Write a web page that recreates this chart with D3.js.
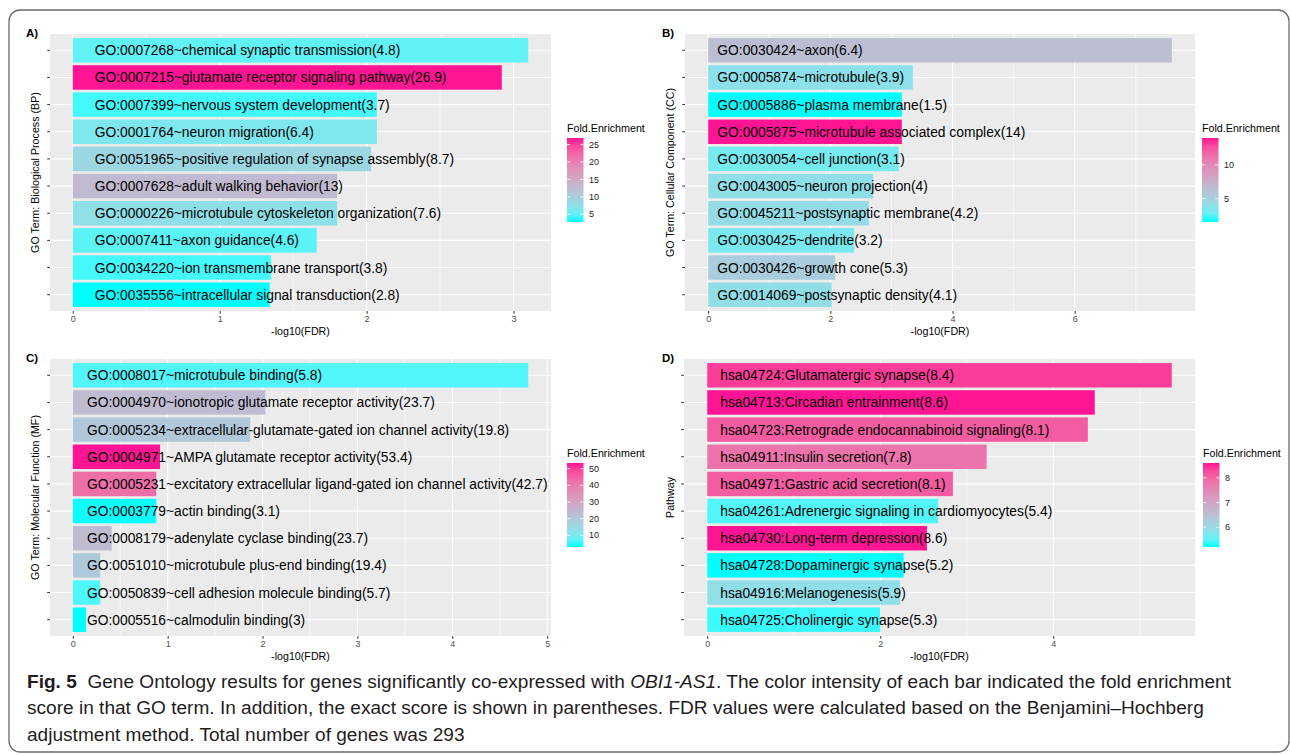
<!DOCTYPE html>
<html>
<head>
<meta charset="utf-8">
<script src="https://cdn.jsdelivr.net/npm/d3@7"></script>
<style>
	body { margin: 0; background: #fff; }
	svg { display: block; }
</style>
</head>
<body>
<div id="chart"></div>
<script>

/* --------------------- Data ---------------------- */

// A) biological process
let bpTerms = ['GO:0007268~chemical synaptic transmission', 'GO:0007215~glutamate receptor signaling pathway',
	'GO:0007399~nervous system development', 'GO:0001764~neuron migration',
	'GO:0051965~positive regulation of synapse assembly', 'GO:0007628~adult walking behavior',
	'GO:0000226~microtubule cytoskeleton organization', 'GO:0007411~axon guidance',
	'GO:0034220~ion transmembrane transport', 'GO:0035556~intracellular signal transduction'];
let bpLogFdr = [3.10, 2.92, 2.07, 2.07, 2.03, 1.80, 1.80, 1.66, 1.35, 1.34];
let bpFold = [4.8, 26.9, 3.7, 6.4, 8.7, 13, 7.6, 4.6, 3.8, 2.8];
let bpTicks = [0, 1, 2, 3];
let bpLegendTicks = [5, 10, 15, 20, 25];

// B) cellular component
let ccTerms = ['GO:0030424~axon', 'GO:0005874~microtubule', 'GO:0005886~plasma membrane',
	'GO:0005875~microtubule associated complex', 'GO:0030054~cell junction', 'GO:0043005~neuron projection',
	'GO:0045211~postsynaptic membrane', 'GO:0030425~dendrite', 'GO:0030426~growth cone',
	'GO:0014069~postsynaptic density'];
let ccLogFdr = [7.59, 3.35, 3.17, 3.17, 3.12, 2.70, 2.63, 2.39, 2.08, 2.02];
let ccFold = [6.4, 3.9, 1.5, 14, 3.1, 4, 4.2, 3.2, 5.3, 4.1];
let ccTicks = [0, 2, 4, 6];
let ccLegendTicks = [5, 10];

// C) molecular function
let mfTerms = ['GO:0008017~microtubule binding', 'GO:0004970~ionotropic glutamate receptor activity',
	'GO:0005234~extracellular-glutamate-gated ion channel activity', 'GO:0004971~AMPA glutamate receptor activity',
	'GO:0005231~excitatory extracellular ligand-gated ion channel activity', 'GO:0003779~actin binding',
	'GO:0008179~adenylate cyclase binding', 'GO:0051010~microtubule plus-end binding',
	'GO:0050839~cell adhesion molecule binding', 'GO:0005516~calmodulin binding'];
let mfLogFdr = [4.80, 2.03, 1.87, 0.92, 0.88, 0.88, 0.41, 0.29, 0.29, 0.14];
let mfFold = [5.8, 23.7, 19.8, 53.4, 42.7, 3.1, 23.7, 19.4, 5.7, 3];
let mfTicks = [0, 1, 2, 3, 4, 5];
let mfLegendTicks = [10, 20, 30, 40, 50];

// D) KEGG pathway
let keggTerms = ['hsa04724:Glutamatergic synapse', 'hsa04713:Circadian entrainment',
	'hsa04723:Retrograde endocannabinoid signaling', 'hsa04911:Insulin secretion',
	'hsa04971:Gastric acid secretion', 'hsa04261:Adrenergic signaling in cardiomyocytes',
	'hsa04730:Long-term depression', 'hsa04728:Dopaminergic synapse', 'hsa04916:Melanogenesis',
	'hsa04725:Cholinergic synapse'];
let keggLogFdr = [5.37, 4.48, 4.40, 3.23, 2.84, 2.67, 2.54, 2.27, 2.23, 2.00];
let keggFold = [8.4, 8.6, 8.1, 7.8, 8.1, 5.4, 8.6, 5.2, 5.9, 5.3];
let keggTicks = [0, 2, 4];
let keggLegendTicks = [6, 7, 8];

/* --------------------- Layout ---------------------- */

let panels = [
	{tag: 'A)', yTitle: 'GO Term: Biological Process (BP)', terms: bpTerms, vals: bpLogFdr, fold: bpFold,
		ticks: bpTicks, legendTicks: bpLegendTicks, left: 50, right: 551, top: 34, bottom: 311, tagX: 26, titleX: 39, legendX: 567},
	{tag: 'B)', yTitle: 'GO Term: Cellular Component (CC)', terms: ccTerms, vals: ccLogFdr, fold: ccFold,
		ticks: ccTicks, legendTicks: ccLegendTicks, left: 685, right: 1195, top: 34, bottom: 311, tagX: 662, titleX: 674, legendX: 1202},
	{tag: 'C)', yTitle: 'GO Term: Molecular Function (MF)', terms: mfTerms, vals: mfLogFdr, fold: mfFold,
		ticks: mfTicks, legendTicks: mfLegendTicks, left: 50, right: 551, top: 359, bottom: 636, tagX: 26, titleX: 39, legendX: 567},
	{tag: 'D)', yTitle: 'Pathway', terms: keggTerms, vals: keggLogFdr, fold: keggFold,
		ticks: keggTicks, legendTicks: keggLegendTicks, left: 684, right: 1195, top: 359, bottom: 636, tagX: 662, titleX: 674, legendX: 1203}
];

let font = '"Liberation Sans", Arial, sans-serif';

let svg = d3.select('#chart').append('svg')
	.attr('width', 1290)
	.attr('height', 755);

svg.append('rect').attr('width', 1290).attr('height', 755).attr('fill', '#fff');

// rounded frame round the whole figure
svg.append('rect')
	.attr('x', 9).attr('y', 10)
	.attr('width', 1280).attr('height', 742)
	.attr('rx', 11)
	.attr('fill', 'none')
	.attr('stroke', '#6b6b6b')
	.attr('stroke-width', 1.3);

let defs = svg.append('defs');

/* --------------------- Panels ---------------------- */

function drawPanel(p, idx) {
	let g = svg.append('g');
	let maxVal = d3.max(p.vals);

	let x = d3.scaleLinear()
		.domain([-0.05 * maxVal, 1.05 * maxVal])
		.range([p.left, p.right]);

	let y = d3.scaleBand()
		.domain(p.terms)
		.range([p.top, p.bottom])
		.paddingInner(0.1)
		.paddingOuter(0.15);

	let color = d3.scaleLinear()
		.domain(d3.extent(p.fold))
		.range(['#00FFFF', '#FF1493'])
		.interpolate(d3.interpolateLab);

	// grey panel + grid
	g.append('rect')
		.attr('x', p.left).attr('y', p.top)
		.attr('width', p.right - p.left).attr('height', p.bottom - p.top)
		.attr('fill', '#EBEBEB');

	let step = p.ticks[1] - p.ticks[0];
	let minor = [];
	for (let v = p.ticks[0] - step / 2; v <= x.domain()[1]; v += step) {
		if (v >= x.domain()[0]) minor.push(v);
	}
	g.selectAll('.minor').data(minor).enter().append('line')
		.attr('x1', d => x(d)).attr('x2', d => x(d))
		.attr('y1', p.top).attr('y2', p.bottom)
		.attr('stroke', '#fff').attr('stroke-width', 0.6);

	g.selectAll('.major').data(p.ticks).enter().append('line')
		.attr('x1', d => x(d)).attr('x2', d => x(d))
		.attr('y1', p.top).attr('y2', p.bottom)
		.attr('stroke', '#fff').attr('stroke-width', 1.1);

	g.selectAll('.hgrid').data(p.terms).enter().append('line')
		.attr('x1', p.left).attr('x2', p.right)
		.attr('y1', d => y(d) + y.bandwidth() / 2).attr('y2', d => y(d) + y.bandwidth() / 2)
		.attr('stroke', '#fff').attr('stroke-width', 1.1);

	// bars
	g.selectAll('.bar').data(p.terms).enter().append('rect')
		.attr('x', x(0))
		.attr('y', d => y(d))
		.attr('width', (d, i) => x(p.vals[i]) - x(0))
		.attr('height', y.bandwidth())
		.attr('fill', (d, i) => color(p.fold[i]));

	// term labels inside bars, placed at 0.15 on the data axis like the ggplot original
	g.selectAll('.lab').data(p.terms).enter().append('text')
		.attr('x', x(0.15))
		.attr('y', d => y(d) + y.bandwidth() / 2)
		.attr('dy', '0.36em')
		.attr('font-family', font)
		.attr('font-size', 13.8)
		.attr('fill', '#000')
		.text((d, i) => d + '(' + p.fold[i] + ')');

	// y ticks (labels are blank in the original)
	g.selectAll('.ytick').data(p.terms).enter().append('line')
		.attr('x1', p.left - 2.8).attr('x2', p.left)
		.attr('y1', d => y(d) + y.bandwidth() / 2).attr('y2', d => y(d) + y.bandwidth() / 2)
		.attr('stroke', '#333').attr('stroke-width', 1);

	// x axis
	let xAxis = d3.axisBottom(x)
		.tickValues(p.ticks)
		.tickFormat(d3.format('d'))
		.tickSize(2.8)
		.tickPadding(2);
	let ax = g.append('g')
		.attr('transform', 'translate(0,' + p.bottom + ')')
		.call(xAxis);
	ax.select('.domain').remove();
	ax.selectAll('line').attr('stroke', '#333');
	ax.selectAll('text')
		.attr('font-family', font)
		.attr('font-size', 9)
		.attr('fill', '#4D4D4D');

	g.append('text')
		.attr('x', (p.left + p.right) / 2)
		.attr('y', p.bottom + 24)
		.attr('text-anchor', 'middle')
		.attr('font-family', font)
		.attr('font-size', 10.7)
		.attr('fill', '#000')
		.text('-log10(FDR)');

	g.append('text')
		.attr('transform', 'translate(' + p.titleX + ',' + (p.top + p.bottom) / 2 + ') rotate(-90)')
		.attr('text-anchor', 'middle')
		.attr('font-family', font)
		.attr('font-size', 10.7)
		.attr('fill', '#000')
		.text(p.yTitle);

	// panel tag
	g.append('text')
		.attr('x', p.tagX)
		.attr('y', p.top + 3)
		.attr('font-family', font)
		.attr('font-weight', 'bold')
		.attr('font-size', 11.5)
		.attr('fill', '#000')
		.text(p.tag);

	// colour bar legend
	let lgTop = p.top + 104, lgBottom = lgTop + 84, lgW = 16.5;
	let ext = d3.extent(p.fold);
	let gradId = 'grad' + idx;
	let grad = defs.append('linearGradient')
		.attr('id', gradId)
		.attr('x1', 0).attr('y1', 1).attr('x2', 0).attr('y2', 0);
	d3.range(0, 1.0001, 0.1).forEach(function(t) {
		grad.append('stop')
			.attr('offset', t)
			.attr('stop-color', color(ext[0] + t * (ext[1] - ext[0])));
	});

	g.append('text')
		.attr('x', p.legendX)
		.attr('y', lgTop - 6)
		.attr('font-family', font)
		.attr('font-size', 10.7)
		.attr('fill', '#000')
		.text('Fold.Enrichment');

	g.append('rect')
		.attr('x', p.legendX).attr('y', lgTop)
		.attr('width', lgW).attr('height', lgBottom - lgTop)
		.attr('fill', 'url(#' + gradId + ')');

	let ly = d3.scaleLinear().domain(ext).range([lgBottom, lgTop]);
	p.legendTicks.forEach(function(v) {
		g.append('line')
			.attr('x1', p.legendX).attr('x2', p.legendX + 3.3)
			.attr('y1', ly(v)).attr('y2', ly(v))
			.attr('stroke', '#fff').attr('stroke-opacity', 0.8);
		g.append('line')
			.attr('x1', p.legendX + lgW - 3.3).attr('x2', p.legendX + lgW)
			.attr('y1', ly(v)).attr('y2', ly(v))
			.attr('stroke', '#fff').attr('stroke-opacity', 0.8);
		g.append('text')
			.attr('x', p.legendX + lgW + 5.5)
			.attr('y', ly(v))
			.attr('dy', '0.35em')
			.attr('font-family', font)
			.attr('font-size', 9)
			.attr('fill', '#222')
			.text(v);
	});
}

panels.forEach(drawPanel);

/* --------------------- Caption ---------------------- */

// the journal uses a condensed face: squeeze Liberation Sans horizontally,
// one factor for all lines so that the first line ends where the printed one does
let capOuter = svg.append('g').attr('transform', 'translate(27,0)');
let cap = capOuter.append('g')
	.attr('font-family', font)
	.attr('font-size', 18.5)
	.attr('fill', '#1f1c1d');

let line1 = cap.append('text').attr('x', 0).attr('y', 688);
line1.append('tspan').attr('font-weight', 'bold').text('Fig. 5');
line1.append('tspan').text('\u00a0\u00a0Gene Ontology results for genes significantly co-expressed with ');
line1.append('tspan').attr('font-style', 'italic').text('OBI1-AS1');
line1.append('tspan').text('. The color intensity of each bar indicated the fold enrichment');

cap.append('text').attr('x', 0).attr('y', 714.5)
	.text('score in that GO term. In addition, the exact score is shown in parentheses. FDR values were calculated based on the Benjamini\u2013Hochberg');
cap.append('text').attr('x', 0).attr('y', 741)
	.text('adjustment method. Total number of genes was 293');

let w1 = line1.node().getComputedTextLength();
cap.attr('transform', 'scale(' + ((1232 - 27) / w1) + ',1)');

</script>
</body>
</html>
